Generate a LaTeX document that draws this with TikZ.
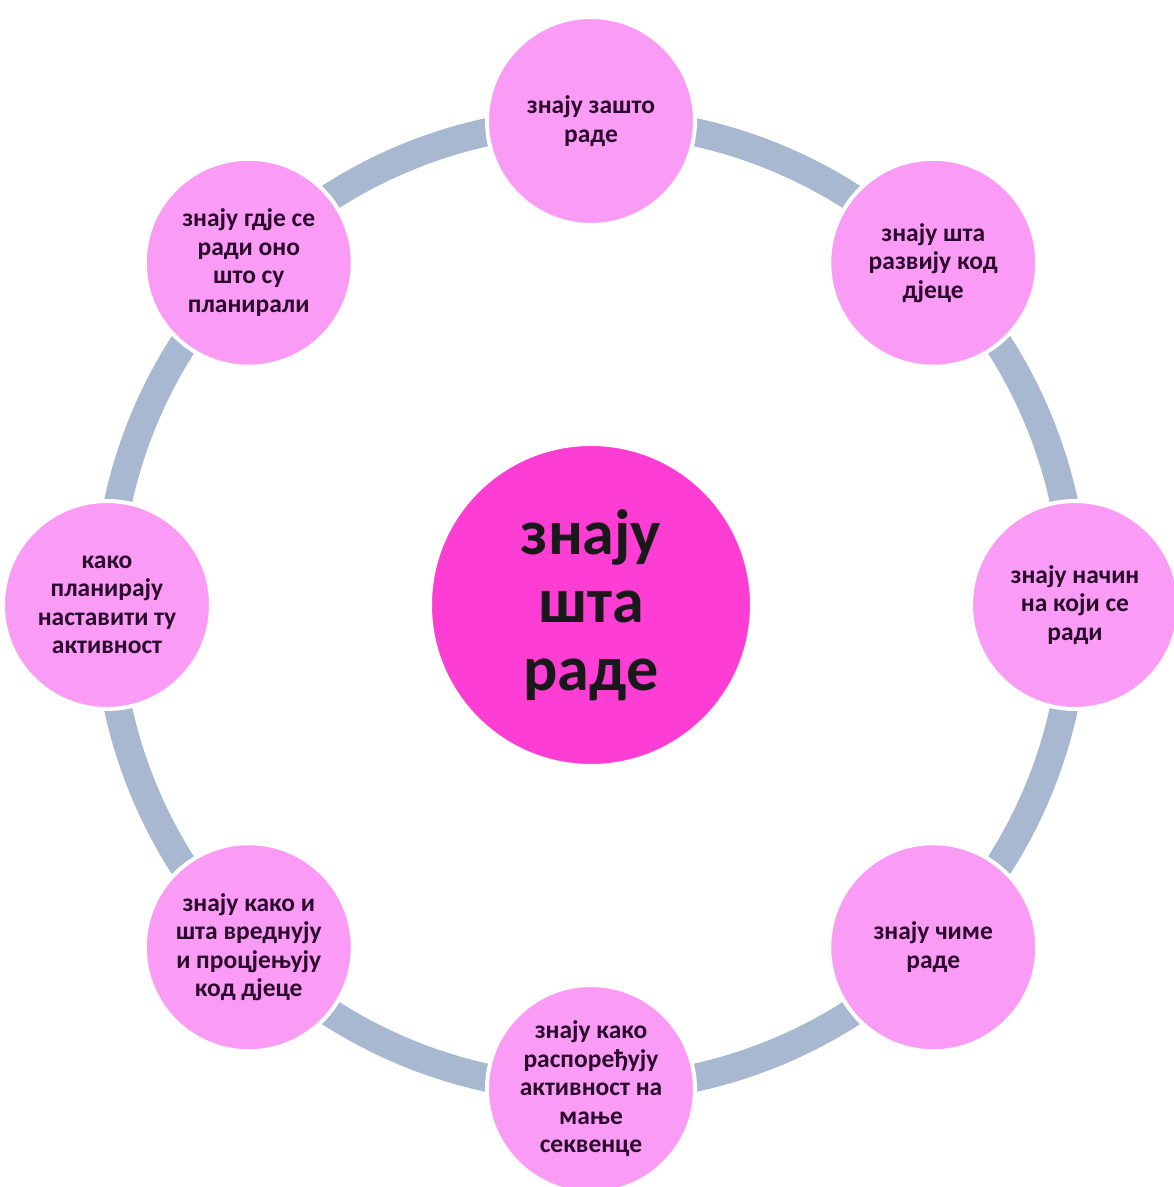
\documentclass[tikz,border=0pt]{standalone}
\usepackage{fontspec}
\setmainfont{Carlito}
\usetikzlibrary{positioning}
\definecolor{ringblue}{HTML}{A8B8D0}
\definecolor{petalpink}{HTML}{FA9CF6}
\definecolor{hubpink}{HTML}{FD3DD3}
\definecolor{inkpurple}{HTML}{2A0B2C}
\tikzset{
  petal node/.style={
    circle,
    fill=petalpink,
    draw=white,
    line width=4pt,
    minimum size=208pt,
    inner sep=0pt,
    align=center,
    text=inkpurple,
    font=\fontsize{25.5}{28.5}\selectfont\bfseries
  },
  hub node/.style={
    circle,
    fill=hubpink,
    draw=white,
    line width=4pt,
    minimum size=322pt,
    inner sep=0pt,
    align=center,
    text=black!90,
    font=\fontsize{64}{68}\selectfont\bfseries
  },
  ring/.style={draw=ringblue, line width=28pt}
}
\begin{document}
\begin{tikzpicture}[x=1pt,y=1pt]
\useasboundingbox (0,0) rectangle (1174,1187);

\coordinate (mid) at (591,582);
\draw[ring] (mid) circle (484);

\node[hub node] (hub) at (mid) {знају\\шта\\раде};

\node[petal node] (why)   at ([shift={(90:484)}]mid)   {знају зашто\\раде};
\node[petal node] (dev)   at ([shift={(45:484)}]mid)   {знају шта\\развију код\\дјеце};
\node[petal node] (way)   at ([shift={(0:484)}]mid)    {знају начин\\на који се\\ради};
\node[petal node] (means) at ([shift={(-45:484)}]mid)  {знају чиме\\раде};
\node[petal node] (split) at ([shift={(-90:484)}]mid)  {знају како\\распоређују\\активност на\\мање\\секвенце};
\node[petal node] (eval)  at ([shift={(-135:484)}]mid) {знају како и\\шта вреднују\\и процјењују\\код дјеце};
\node[petal node] (next)  at ([shift={(180:484)}]mid)  {како\\планирају\\наставити ту\\активност};
\node[petal node] (where) at ([shift={(135:484)}]mid)  {знају гдје се\\ради оно\\што су\\планирали};

\end{tikzpicture}
\end{document}
